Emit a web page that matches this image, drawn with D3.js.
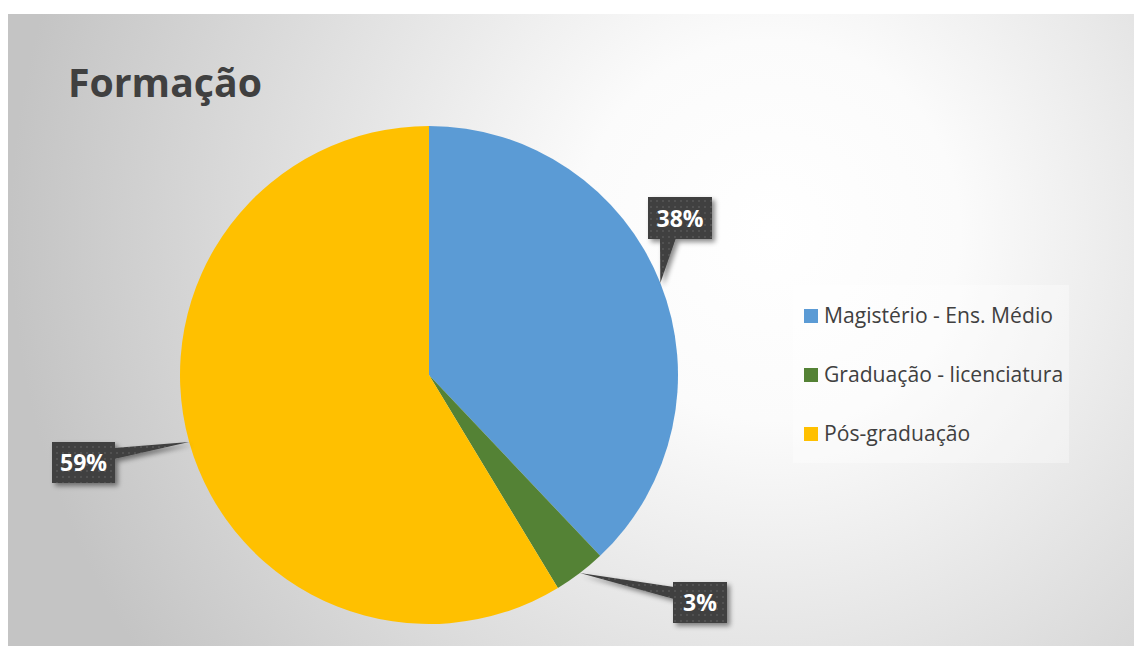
<!DOCTYPE html>
<html><head><meta charset="utf-8">
<script src="https://cdn.jsdelivr.net/npm/d3@7"></script>
<style>html,body{margin:0;padding:0;background:#fff;}svg{display:block;}</style>
</head><body>
<svg id="chart" width="1134" height="646"></svg>
<script>
// ---- data ----
const categories = ["Magistério - Ens. Médio", "Graduação - licenciatura", "Pós-graduação"];
const values = [37.9, 3.4, 58.6];
const labels = ["38%", "3%", "59%"];
const colors = ["#5B9BD5", "#548235", "#FFC000"];
const title = "Formação";

const svg = d3.select("#chart");
const W = 1134, H = 646;
const defs = svg.append("defs");

// background radial gradient
const rg = defs.append("radialGradient").attr("id","bg").attr("gradientUnits","userSpaceOnUse")
  .attr("cx",770).attr("cy",230).attr("r",760).attr("fx",770).attr("fy",230);
rg.append("stop").attr("offset","0").attr("stop-color","#ffffff");
rg.append("stop").attr("offset","0.25").attr("stop-color","#fbfbfb");
rg.append("stop").attr("offset","1").attr("stop-color","#c4c4c4");

// dotted pattern for callouts
const pat = defs.append("pattern").attr("id","dots").attr("patternUnits","userSpaceOnUse")
  .attr("width",6).attr("height",6);
pat.append("rect").attr("width",6).attr("height",6).attr("fill","#3f3f3f");
pat.append("circle").attr("cx",3).attr("cy",3).attr("r",1.1).attr("fill","#555555");

const filt = defs.append("filter").attr("id","shadow").attr("x","-30%").attr("y","-30%").attr("width","160%").attr("height","160%");
filt.append("feDropShadow").attr("dx",3).attr("dy",3).attr("stdDeviation",2.5).attr("flood-color","#000").attr("flood-opacity",0.45);

const frameL = 8, frameT = 14;
svg.append("rect").attr("x",frameL).attr("y",frameT).attr("width",W-frameL).attr("height",H-frameT).attr("fill","url(#bg)");

// title
function fitText(sel, targetW){
  const w = sel.node().getComputedTextLength();
  const fs = parseFloat(sel.attr("font-size"));
  sel.attr("font-size", fs*targetW/w);
}
const t = svg.append("text").attr("x",68).attr("y",97).attr("font-family","'Open Sans', sans-serif")
  .attr("font-weight","bold").attr("font-size",40).attr("fill","#404040").text(title);
fitText(t, 194);

// pie
const cx = 429, cy = 375, R = 249;
const pie = d3.pie().sort(null).value(d=>d)(values);
const arc = d3.arc().innerRadius(0).outerRadius(R);
const g = svg.append("g").attr("transform",`translate(${cx},${cy})`);
g.selectAll("path").data(pie).join("path").attr("d",arc).attr("fill",(d,i)=>colors[i]);

// callouts
const boxes = [
  {x:648, y:197, w:64, h:42, side:"bottom"},
  {x:673, y:582, w:54, h:41, side:"left"},
  {x:52,  y:442, w:63, h:41, side:"right"}
];
pie.forEach((d,i)=>{
  const a = (d.startAngle+d.endAngle)/2;
  const tx = cx + R*Math.sin(a), ty = cy - R*Math.cos(a);
  const b = boxes[i];
  let base;
  if (b.side==="bottom") base = [[b.x+12,b.y+b.h-1],[b.x+28,b.y+b.h-1]];
  else if (b.side==="left") base = [[b.x+1,b.y+5],[b.x+1,b.y+17]];
  else base = [[b.x+b.w-1,b.y+6],[b.x+b.w-1,b.y+17]];
  const cg = svg.append("g").attr("filter","url(#shadow)");
  cg.append("path").attr("d",`M${base[0][0]},${base[0][1]}L${tx},${ty}L${base[1][0]},${base[1][1]}Z`).attr("fill","url(#dots)");
  cg.append("rect").attr("x",b.x).attr("y",b.y).attr("width",b.w).attr("height",b.h).attr("fill","url(#dots)");
  svg.append("text").attr("x",b.x+b.w/2).attr("y",b.y+b.h/2+8.5).attr("text-anchor","middle")
    .attr("font-family","'Open Sans', sans-serif").attr("font-weight","bold").attr("font-size",23)
    .attr("fill","#ffffff").text(labels[i]);
});

// legend
svg.append("rect").attr("x",793).attr("y",285).attr("width",276).attr("height",178)
  .attr("fill","#ffffff").attr("fill-opacity",0.35);
const lg = svg.append("g");
const baselines = [323, 382, 441];
categories.forEach((c,i)=>{
  lg.append("rect").attr("x",804).attr("y",baselines[i]-14).attr("width",14).attr("height",14).attr("fill",colors[i]);
  lg.append("text").attr("x",824).attr("y",baselines[i]).attr("font-family","'Open Sans', sans-serif")
    .attr("font-size",17).attr("fill","#404040").text(c);
});
// fit legend font by first item width
const first = lg.select("text");
const w0 = first.node().getComputedTextLength();
const fsL = 17*229/w0;
lg.selectAll("text").attr("font-size", fsL);
</script>
</body></html>
